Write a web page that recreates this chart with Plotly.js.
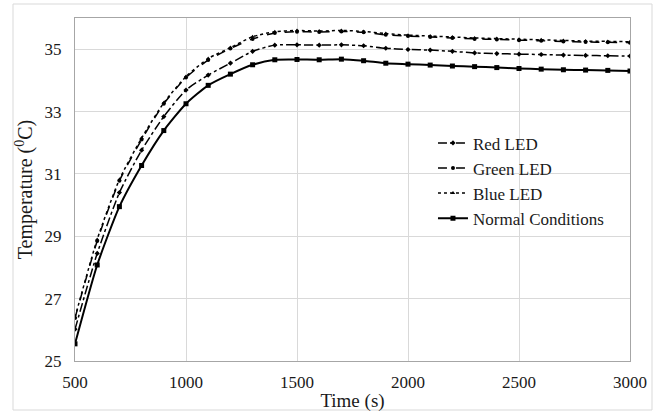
<!DOCTYPE html>
<html>
<head>
<meta charset="utf-8">
<script src="https://cdn.plot.ly/plotly-3.0.1.min.js"></script>
<style>html,body{margin:0;padding:0;background:#fff;}#chart{width:660px;height:414px;}</style>
</head>
<body>
<div id="chart"></div>
<script>
var time = [500, 600, 700, 800, 900, 1000, 1100, 1200, 1300, 1400, 1500, 1600, 1700, 1800, 1900, 2000, 2100, 2200, 2300, 2400, 2500, 2600, 2700, 2800, 2900, 3000];
var redLED = [26.02, 28.45, 30.4, 31.76, 32.84, 33.69, 34.17, 34.55, 34.93, 35.13, 35.14, 35.13, 35.14, 35.11, 35.03, 34.99, 34.97, 34.93, 34.88, 34.86, 34.84, 34.83, 34.81, 34.8, 34.79, 34.78];
var greenLED = [26.38, 28.85, 30.78, 32.1, 33.25, 34.09, 34.65, 35.02, 35.33, 35.52, 35.56, 35.55, 35.57, 35.54, 35.46, 35.42, 35.39, 35.36, 35.33, 35.31, 35.29, 35.27, 35.25, 35.23, 35.22, 35.21];
var blueLED = [26.4, 28.9, 30.82, 32.15, 33.28, 34.12, 34.7, 35.05, 35.4, 35.56, 35.6, 35.58, 35.6, 35.57, 35.5, 35.45, 35.42, 35.39, 35.36, 35.34, 35.32, 35.3, 35.28, 35.26, 35.25, 35.24];
var normalCond = [25.55, 28.08, 29.95, 31.27, 32.39, 33.25, 33.84, 34.2, 34.5, 34.66, 34.67, 34.66, 34.68, 34.63, 34.55, 34.52, 34.49, 34.46, 34.44, 34.41, 34.38, 34.36, 34.34, 34.33, 34.32, 34.3];
var seriesNames = ["Red LED", "Green LED", "Blue LED", "Normal Conditions"];
var xTicks = [500, 1000, 1500, 2000, 2500, 3000];
var yTicks = [25, 27, 29, 31, 33, 35];

var font = "Liberation Serif";
function tr(name, y, dash, sym, size, w) {
  return {x: time, y: y, name: name, type: 'scatter', mode: 'lines+markers',
    line: {color: '#000', width: w, dash: dash, shape: 'spline', smoothing: 0.6},
    marker: {color: '#000', symbol: sym, size: size}};
}
var data = [
  tr(seriesNames[0], redLED, 'dashdot', 'diamond', 4, 1.5),
  tr(seriesNames[1], greenLED, 'dash', 'circle', 4, 1.5),
  tr(seriesNames[2], blueLED, 'dot', 'triangle-up', 4, 1.5),
  tr(seriesNames[3], normalCond, 'solid', 'square', 5, 2)
];
var layout = {
  width: 660, height: 414,
  margin: {l: 75, r: 30, t: 18, b: 53},
  paper_bgcolor: '#fff', plot_bgcolor: '#fff',
  font: {family: font, size: 17, color: '#1a1a1a'},
  showlegend: true,
  legend: {x: 0.645, y: 0.687, xanchor: 'left', yanchor: 'top', bgcolor: 'rgba(0,0,0,0)',
    font: {family: font, size: 17, color: '#1a1a1a'}, itemwidth: 30, tracegroupgap: 0},
  xaxis: {range: [500, 3000], tickvals: xTicks, ticktext: xTicks.map(String),
    showgrid: true, gridcolor: '#d9d9d9', gridwidth: 1,
    showline: true, linecolor: '#a6a6a6', linewidth: 1, mirror: true,
    ticks: '', zeroline: false, tickfont: {family: font, size: 17}, ticklabelstandoff: 6,
    title: {text: 'Time (s)', font: {family: font, size: 19}, standoff: 2}},
  yaxis: {range: [25, 36], tickvals: yTicks, ticktext: yTicks.map(String),
    showgrid: true, gridcolor: '#d9d9d9', gridwidth: 1,
    showline: true, linecolor: '#a6a6a6', linewidth: 1, mirror: true,
    ticks: '', zeroline: false, tickfont: {family: font, size: 17}, ticklabelstandoff: 9,
    title: {text: 'Temperature (<sup>0</sup>C)', font: {family: font, size: 20}, standoff: 6}},
  shapes: [{type: 'rect', xref: 'paper', yref: 'paper',
    x0: (13 - 75) / 555, x1: (652 - 75) / 555, y0: (361 - 410) / 343, y1: (361 - 4) / 343,
    line: {color: '#d9d9d9', width: 1}, fillcolor: 'rgba(0,0,0,0)', layer: 'below'}]
};
Plotly.newPlot('chart', data, layout, {displayModeBar: false, staticPlot: true});
</script>
</body>
</html>
